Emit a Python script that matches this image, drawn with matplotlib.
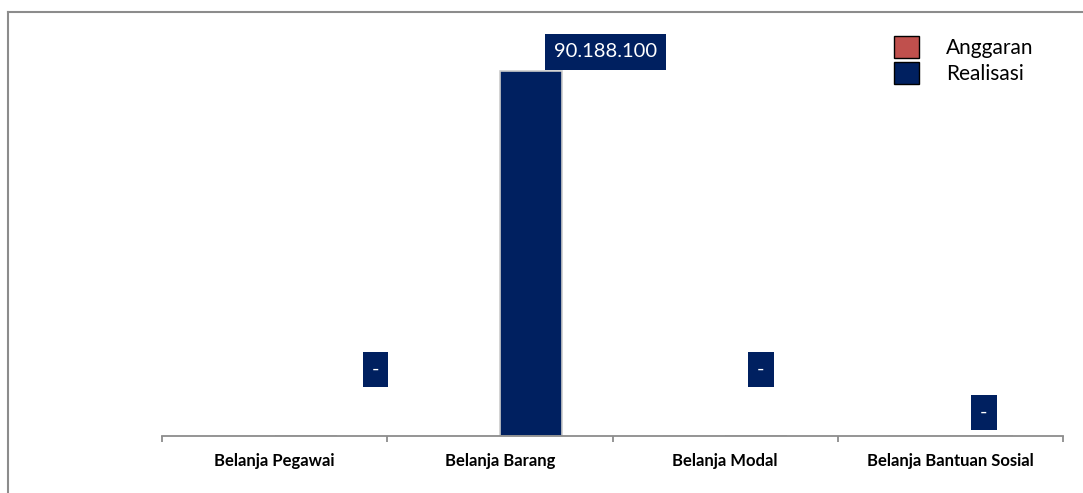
import numpy as np
import matplotlib
matplotlib.use('Agg')
import matplotlib.pyplot as plt
from matplotlib.patches import Patch
from matplotlib.lines import Line2D

plt.rcParams['font.family'] = ['Lato', 'DejaVu Sans']

# data
categories = ['Belanja Pegawai', 'Belanja Barang', 'Belanja Modal', 'Belanja Bantuan Sosial']
anggaran = [0, 0, 0, 0]
realisasi = [0, 90188100, 0, 0]
series_names = ['Anggaran', 'Realisasi']

# label placement (manual offsets, like the Excel source)
label_dx = [0.31, 0.33, 0.02, 0.01]
label_y = [16.5e6, 94.9e6, 16.5e6, 5.9e6]

c_ang = '#C0504D'
c_real = '#002060'


def fmt(v):
    if v == 0:
        return '-'
    return f'{v:,.0f}'.replace(',', '.')


fig = plt.figure(figsize=(10.83, 4.93), dpi=100)
fig.set_facecolor('w')
ax = fig.add_axes([162 / 1083, 57 / 493, 901 / 1083, 404.7 / 493])

x = np.arange(len(categories))
w = 0.276
ax.bar(x - w / 2, anggaran, w, color=c_ang, edgecolor='#cccccc', linewidth=1)
ax.bar(x + w / 2, realisasi, w, color=c_real, edgecolor='#cccccc', linewidth=1.2)

for i, v in enumerate(realisasi):
    ax.text(x[i] + w / 2 + label_dx[i], label_y[i], fmt(v), color='w', fontsize=14.5,
            ha='center', va='center',
            bbox=dict(boxstyle='square,pad=0.45', fc=c_real, ec='none'))

ax.set_xlim(-0.5, len(categories) - 0.5)
ax.set_ylim(0, 1e8)
ax.set_yticks([])
for s in ['left', 'right', 'top']:
    ax.spines[s].set_visible(False)
ax.spines['bottom'].set_color('#8c8c8c')
ax.spines['bottom'].set_linewidth(1.3)
ax.set_xticks(x)
ax.set_xticklabels(categories, fontsize=12, fontweight='bold')
ax.tick_params(axis='x', which='major', length=0, pad=12)
ax.set_xticks(np.arange(len(categories) + 1) - 0.5, minor=True)
ax.tick_params(axis='x', which='minor', length=4, width=1.3, color='#8c8c8c', direction='out')

handles = [Patch(facecolor=c_ang, edgecolor='black', linewidth=1),
           Patch(facecolor=c_real, edgecolor='black', linewidth=1)]
fig.legend(handles, series_names, loc='upper left', bbox_to_anchor=(886 / 1083, 1 - 28 / 493),
           frameon=False, fontsize=15, handlelength=1.2, handleheight=1.2,
           handletextpad=1.3, labelspacing=0.2, borderaxespad=0)

# outer frame (left and top edges only)
fig.add_artist(Line2D([8 / 1083, 8 / 1083], [0, 1 - 12 / 493], color='#8c8c8c', lw=1.5))
fig.add_artist(Line2D([8 / 1083, 1], [1 - 12 / 493, 1 - 12 / 493], color='#8c8c8c', lw=1.5))

fig.savefig('out.png', dpi=100)
